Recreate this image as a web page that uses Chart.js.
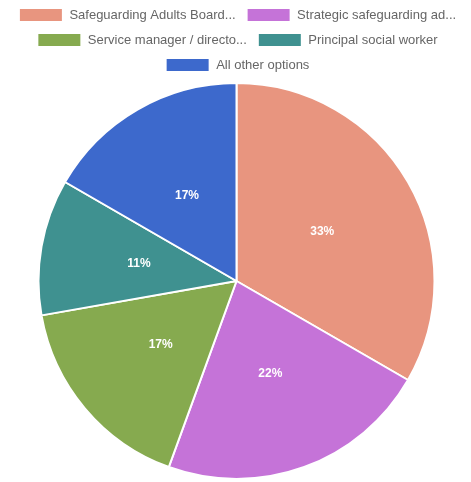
<!DOCTYPE html>
<html>
<head>
<meta charset="utf-8">
<script src="https://cdn.jsdelivr.net/npm/chart.js@4"></script>
<style>
  html, body { margin: 0; padding: 0; background: #fff; }
  #wrap { width: 471px; height: 482px; }
</style>
</head>
<body>
<div id="wrap"><canvas id="pie-chart"></canvas></div>
<script>
var labels = [
    "Safeguarding Adults Board...",
    "Strategic safeguarding ad...",
    "Service manager / directo...",
    "Principal social worker",
    "All other options",
];
var counts = [6, 4, 3, 2, 3];
var colours = ["#e8957f", "#c573d8", "#86aa4f", "#3f9190", "#3d69cc"];

var total = counts.reduce(function (a, b) { return a + b; }, 0);

// draws the percentage in the middle of each slice
var sliceLabels = {
    id: "sliceLabels",
    afterDatasetsDraw: function (chart) {
        var ctx = chart.ctx;
        var meta = chart.getDatasetMeta(0);
        ctx.save();
        ctx.fillStyle = "#fff";
        ctx.font = "bold 12px 'Liberation Sans', Arial, sans-serif";
        ctx.textAlign = "center";
        ctx.textBaseline = "middle";
        meta.data.forEach(function (arc, i) {
            var p = arc.tooltipPosition();
            ctx.fillText(Math.round(counts[i] / total * 100) + "%", p.x, p.y);
        });
        ctx.restore();
    },
};

new Chart(document.getElementById("pie-chart"), {
    type: "pie",
    data: {
        labels: labels,
        datasets: [
            {
                data: counts,
                backgroundColor: colours,
                borderColor: "#fff",
                borderWidth: 2,
            },
        ],
    },
    options: {
        responsive: true,
        maintainAspectRatio: false,
        animation: false,
        layout: { padding: { top: -3, bottom: 2, left: 2, right: -2 } },
        plugins: {
            legend: {
                position: "top",
                labels: {
                    boxWidth: 44,
                    boxHeight: 14,
                    padding: 11,
                    color: "#666",
                    font: {
                        size: 13,
                        family: "'Liberation Sans', Arial, sans-serif",
                    },
                },
            },
            tooltip: { enabled: false },
        },
    },
    plugins: [sliceLabels],
});
</script>
</body>
</html>
